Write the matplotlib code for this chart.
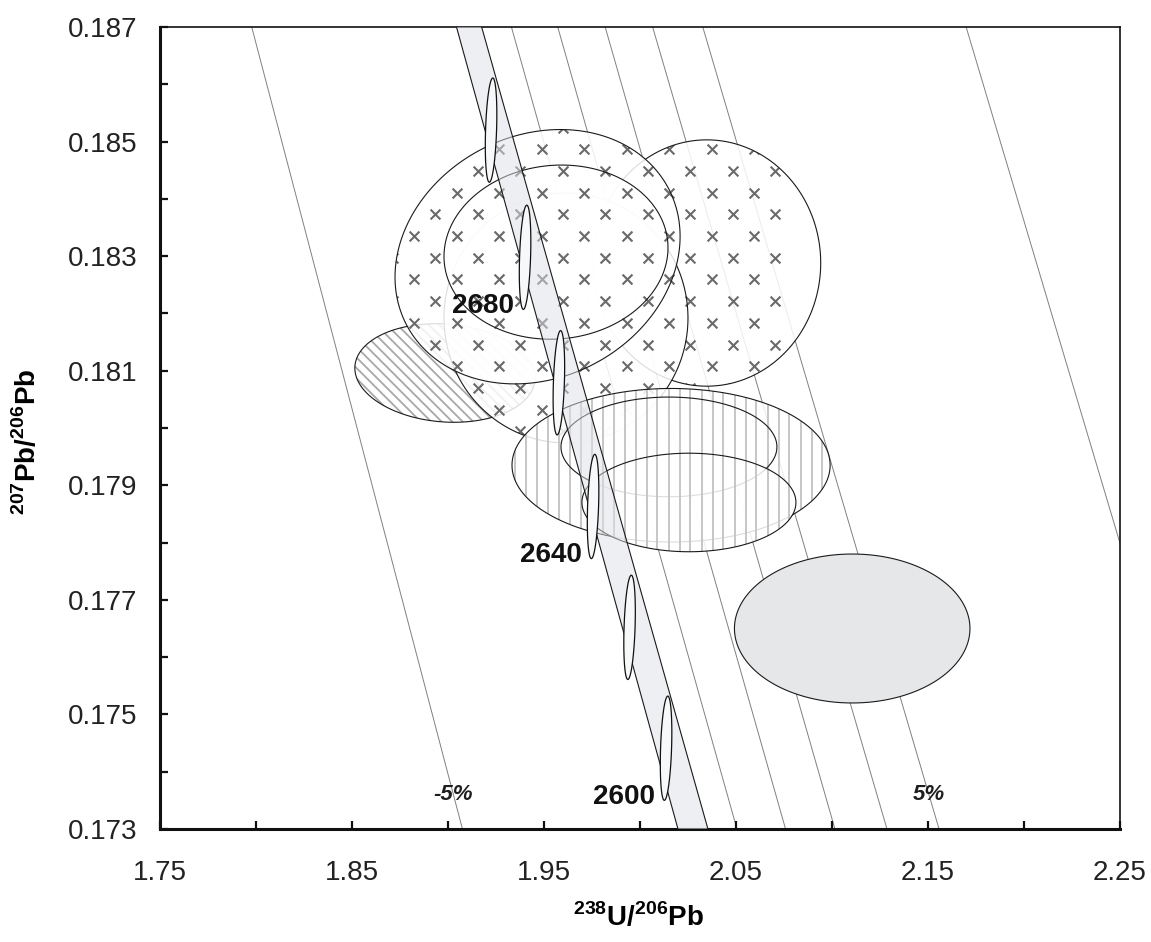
import numpy as np
import matplotlib
matplotlib.use('Agg')
import matplotlib.pyplot as plt
from matplotlib.patches import Polygon
from matplotlib.collections import LineCollection
from matplotlib.ticker import FixedLocator, FormatStrFormatter

plt.rcParams['font.family'] = ['Liberation Sans', 'DejaVu Sans']
plt.rcParams['mathtext.fontset'] = 'custom'
plt.rcParams['mathtext.rm'] = 'Liberation Sans'
plt.rcParams['mathtext.bf'] = 'Liberation Sans:bold'

# concordia age markers (Ma) with their decay-constant error ellipses
ages = [2600, 2620, 2640, 2660, 2680, 2700]
age_x = [2.0137, 1.9947, 1.9757, 1.9579, 1.9403, 1.9226]
age_y = [0.17441, 0.17652, 0.17863, 0.18079, 0.18298, 0.18520]
age_sx = 0.0030
age_sy = 0.00091
age_rho = 0.3
labelled = [2600, 2640, 2680]

# concordia band, x of both edges at top and bottom of the plot
band_y = [0.187, 0.173]
band_lo = [1.9046, 2.0199]
band_hi = [1.9177, 2.0355]

# discordance reference lines (%)
ref_pct = [-5, 1, 2, 3, 4, 5, 10]
ref_x_top = [1.7980, 1.9332, 1.9573, 1.9820, 2.0067, 2.0328, 2.1699]
ref_x_bot = [1.9077, 2.0506, 2.0759, 2.1016, 2.1287, 2.1558, 2.2500]
ref_y_bot = [0.173, 0.173, 0.173, 0.173, 0.173, 0.173, 0.17799]
pct_shown = [-5, 5]
pct_label_y = 0.17361

# analyses, 2 sigma error ellipses (drawing order = list order)
spot_x = [1.8986, 2.0349, 1.9616, 1.9468, 1.9564, 2.0163, 2.0152, 2.0256, 2.1106]
spot_y = [0.18096, 0.18288, 0.18192, 0.18299, 0.18307, 0.17935, 0.17967, 0.17870, 0.17650]
spot_sx = [0.0469, 0.0593, 0.0635, 0.0742, 0.0583, 0.0828, 0.0562, 0.0557, 0.0613]
spot_sy = [0.00086, 0.00215, 0.00218, 0.00222, 0.00152, 0.00134, 0.00087, 0.00086, 0.00130]
spot_rho = [-0.1, 0.0, 0.0, 0.16, 0.05, 0.0, 0.0, 0.0, 0.0]
spot_fill = ['diag', 'cross', 'cross', 'cross', 'cross', 'vert', 'vert', 'vert', 'solid']

xmin, xmax = 1.75, 2.25
ymin, ymax = 0.173, 0.187


def ellipse_xy(cx, cy, sx, sy, rho, n=240):
    t = np.linspace(0, 2*np.pi, n)
    x = cx + sx*np.cos(t)
    y = cy + sy*(rho*np.cos(t) + np.sqrt(1 - rho**2)*np.sin(t))
    return np.column_stack([x, y])


W, H = 1151, 942
fig = plt.figure(figsize=(W/100, H/100), dpi=100)
ax = fig.add_axes([159.5/W, 113/H, 960.5/W, 802/H])
ax.set_xlim(xmin, xmax)
ax.set_ylim(ymin, ymax)

# pixels per data unit, used for the fill patterns
ppx = 960.5/(xmax - xmin)
ppy = 802/(ymax - ymin)

def px2data(u, v):
    return xmin + np.asarray(u)/ppx, ymax - np.asarray(v)/ppy

# reference lines
for i in range(len(ref_pct)):
    ax.plot([ref_x_top[i], ref_x_bot[i]], [ymax, ref_y_bot[i]], color='#808080', lw=0.7, zorder=1)

# pattern geometry (pixel space of the axes)
ii, jj = np.meshgrid(np.arange(-20, 30), np.arange(-10, 45))
keep = (ii + jj) % 2 == 0
cross_u = 382.2 + 21.25*ii[keep] - 21.25*18
cross_v = 122.3 + 21.7*jj[keep] - 21.7*6
cross_x, cross_y = px2data(cross_u, cross_v)
stripe_x = xmin + np.arange(3, 960, 11)/ppx
diag_segs = []
for c in np.arange(-900, 1000, 10.5):
    u = np.array([0, 960.5])
    v = u - c
    dx, dy = px2data(u, v)
    diag_segs.append(np.column_stack([dx, dy]))

for i in range(len(spot_x)):
    xy = ellipse_xy(spot_x[i], spot_y[i], spot_sx[i], spot_sy[i], spot_rho[i])
    z = 2 + 0.1*i
    if spot_fill[i] == 'solid':
        body = Polygon(xy, closed=True, facecolor='#e6e7e9', edgecolor='none', zorder=z)
    else:
        body = Polygon(xy, closed=True, facecolor='white', edgecolor='none', alpha=0.85, zorder=z)
    ax.add_patch(body)

    if spot_fill[i] == 'cross':
        sc = ax.scatter(cross_x, cross_y, marker='x', s=50, c='#6a6a6a', linewidths=1.5, zorder=z+0.02)
        sc.set_clip_path(body)
    elif spot_fill[i] == 'vert':
        lc = ax.vlines(stripe_x, ymin, ymax, colors='#c6c6c6', lw=1.4, zorder=z+0.02)
        lc.set_clip_path(body)
    elif spot_fill[i] == 'diag':
        lc = LineCollection(diag_segs, colors='#a8a8a8', lw=1.3, zorder=z+0.02)
        ax.add_collection(lc)
        lc.set_clip_path(body)

    ax.add_patch(Polygon(xy, closed=True, fill=False, edgecolor='#1a1a1a', lw=0.8, zorder=z+0.05))

# concordia band
band = Polygon([[band_lo[0], band_y[0]], [band_hi[0], band_y[0]],
                [band_hi[1], band_y[1]], [band_lo[1], band_y[1]]],
               closed=True, facecolor='#dde1e6', edgecolor='none', alpha=0.5, zorder=4)
ax.add_patch(band)
ax.plot(band_lo, band_y, color='#1a1a1a', lw=0.8, zorder=4.1)
ax.plot(band_hi, band_y, color='#1a1a1a', lw=0.8, zorder=4.1)

# age markers
for i in range(len(ages)):
    xy = ellipse_xy(age_x[i], age_y[i], age_sx, age_sy, age_rho, n=120)
    ax.add_patch(Polygon(xy, closed=True, facecolor='#f7f8f9', edgecolor='#111111', lw=0.9, zorder=5))
    if ages[i] in labelled:
        ax.annotate(str(ages[i]), xy=(age_x[i], age_y[i]), xytext=(-8, -35),
                    textcoords='offset points', ha='right', va='center',
                    fontsize=20, fontweight='bold', color='#111111', zorder=6)

# discordance labels, sitting on their lines
for p in pct_shown:
    k = ref_pct.index(p)
    f = (pct_label_y - ref_y_bot[k])/(ymax - ref_y_bot[k])
    lx = ref_x_bot[k] + (ref_x_top[k] - ref_x_bot[k])*f
    ax.text(lx, pct_label_y, '%d%%' % p, ha='center', va='center', fontsize=16,
            fontweight='bold', fontstyle='italic', color='#1e1e1e', zorder=6)

# axes
ax.xaxis.set_major_locator(FixedLocator(np.round(np.arange(1.75, 2.26, 0.1), 2)))
ax.xaxis.set_minor_locator(FixedLocator(np.round(np.arange(1.80, 2.21, 0.1), 2)))
ax.yaxis.set_major_locator(FixedLocator(np.round(np.arange(0.173, 0.1871, 0.002), 3)))
ax.yaxis.set_minor_locator(FixedLocator(np.round(np.arange(0.174, 0.1861, 0.002), 3)))
ax.xaxis.set_major_formatter(FormatStrFormatter('%.2f'))
ax.yaxis.set_major_formatter(FormatStrFormatter('%.3f'))
ax.tick_params(which='both', direction='in', length=6, width=1.6, top=False, right=False, color='#111111')
ax.tick_params(axis='x', labelsize=20, pad=22, labelcolor='#222222')
ax.tick_params(axis='y', labelsize=20, pad=16, labelcolor='#222222')

for s in ['left', 'bottom']:
    ax.spines[s].set_linewidth(2.2)
    ax.spines[s].set_color('#111111')
for s in ['top', 'right']:
    ax.spines[s].set_linewidth(1.2)
    ax.spines[s].set_color('#111111')

ax.set_xlabel(r'$^{\mathbf{238}}$U/$^{\mathbf{206}}$Pb', fontsize=20, fontweight='bold', va='center')
ax.xaxis.set_label_coords(0.499, -0.11)
ax.set_ylabel(r'$^{\mathbf{207}}$Pb/$^{\mathbf{206}}$Pb', fontsize=20, fontweight='bold', va='center')
ax.yaxis.set_label_coords(-0.138, 0.483)

fig.savefig('out.png', dpi=100)
